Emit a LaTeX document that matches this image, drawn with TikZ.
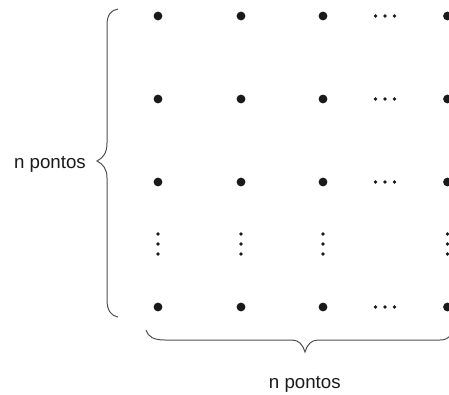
\documentclass[tikz,border=0pt]{standalone}
\usepackage{fontspec}
\setmainfont{Liberation Sans}
\definecolor{dotc}{HTML}{1A1A1A}
\definecolor{bracec}{HTML}{505050}
\tikzset{
  bigdot/.style={circle,fill=dotc,inner sep=0pt,minimum size=8.8bp},
  smalldot/.style={circle,fill=dotc,inner sep=0pt,minimum size=3.8bp},
  bracepath/.style={draw=bracec,line width=1bp},
  lbl/.style={inner sep=0pt,font=\fontsize{18.7bp}{22bp}\selectfont,text=dotc}
}
\begin{document}
\begin{tikzpicture}[x=1bp,y=-1bp]
\useasboundingbox (0,0) rectangle (449,394);
% big dots
\foreach \c/\x in {1/158,2/241,3/323,4/447.5}{
  \foreach \r/\y in {1/16,2/99,3/182,4/307}{
    \node[bigdot] (d\c\r) at (\x,\y) {};
  }
  \foreach \k/\y in {1/234,2/244,3/254}{
    \node[smalldot] (v\c\k) at (\x,\y) {};
  }
}
% horizontal ellipses
\foreach \r/\y in {1/16,2/99,3/182,4/307}{
  \foreach \k/\x in {1/375.5,2/385,3/394.5}{
    \node[smalldot] (h\r\k) at (\x,\y) {};
  }
}
% left brace
\path[bracepath] (118,9) .. controls (111,10) and (107,15) .. (107,25)
  -- (107,143) .. controls (107,153) and (103,158) .. (97,161)
  .. controls (103,164) and (107,169) .. (107,178)
  -- (107,300) .. controls (107,310) and (111,316) .. (118,317);
% bottom brace
\path[bracepath] (146,330) .. controls (148,337) and (154,340) .. (165,340)
  -- (292,340) .. controls (299,340) and (303,345) .. (305,352)
  .. controls (307,345) and (311,340) .. (318,340)
  -- (440,340) .. controls (444,340) and (447,339) .. (450,336);
% labels
\node[lbl,anchor=base east] (lt) at (86,168.3) {n pontos};
\node[lbl,anchor=base] (bt) at (304.8,388.3) {n pontos};
\end{tikzpicture}
\end{document}
